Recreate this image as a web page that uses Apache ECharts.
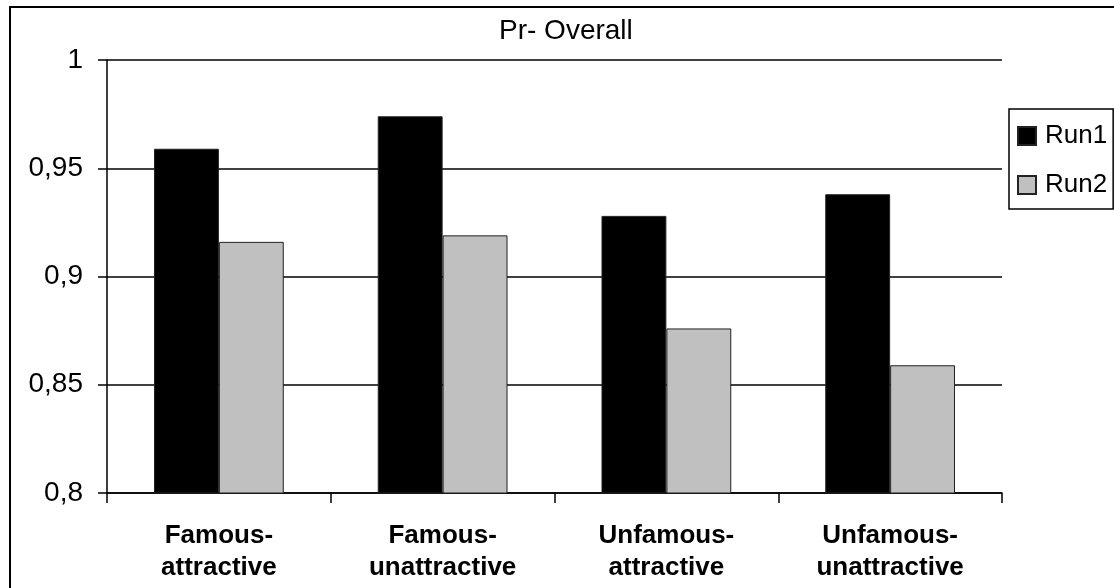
<!DOCTYPE html>
<html>
<head>
<meta charset="utf-8">
<script src="https://cdn.jsdelivr.net/npm/echarts@6/dist/echarts.min.js"></script>
<style>
  html, body { margin: 0; padding: 0; background: #fff; }
  #chart { width: 1114px; height: 588px; }
</style>
</head>
<body>
<div id="chart"></div>
<script>
  // values
  const categories = ['Famous-\nattractive', 'Famous-\nunattractive', 'Unfamous-\nattractive', 'Unfamous-\nunattractive']
  const seriesNames = ['Run1', 'Run2']
  const run1 = [0.959, 0.974, 0.928, 0.938]
  const run2 = [0.916, 0.919, 0.876, 0.859]
  const yMin = 0.8
  const yMax = 1
  const yStep = 0.05

  const font = 'Arial, "Liberation Sans", sans-serif'
  const myChart = echarts.init(document.getElementById('chart'))

  myChart.setOption({
    animation: false,
    textStyle: { fontFamily: font },
    title: {
      text: 'Pr- Overall',
      left: 499,
      top: 17,
      padding: 0,
      textStyle: { fontSize: 28, fontWeight: 'normal', color: '#000', fontFamily: font }
    },
    graphic: [{
      type: 'rect',
      shape: { x: 10, y: 7, width: 1200, height: 700 },
      style: { fill: 'none', stroke: '#000', lineWidth: 2 },
      silent: true
    }],
    legend: {
      orient: 'vertical',
      left: 1009,
      top: 109,
      padding: [12, 6, 9, 8],
      itemWidth: 18,
      itemHeight: 18,
      itemGap: 19,
      borderColor: '#000',
      borderWidth: 1.5,
      icon: 'rect',
      data: seriesNames,
      textStyle: { fontSize: 26, color: '#000', lineHeight: 30, fontFamily: font, padding: [0, 0, 0, 4] }
    },
    grid: {
      left: 107,
      right: 112,
      top: 60,
      bottom: 95
    },
    xAxis: {
      type: 'category',
      data: categories,
      axisLine: { lineStyle: { color: '#000', width: 1.5 } },
      axisTick: { show: true, length: 10, lineStyle: { color: '#000', width: 1.5 } },
      axisLabel: {
        color: '#000',
        fontSize: 26,
        fontWeight: 'bold',
        lineHeight: 32,
        margin: 27,
        interval: 0,
        fontFamily: font
      }
    },
    yAxis: {
      type: 'value',
      min: yMin,
      max: yMax,
      interval: yStep,
      axisLine: { show: true, lineStyle: { color: '#000', width: 1.5 } },
      axisTick: { show: true, length: 9, lineStyle: { color: '#000', width: 1.5 } },
      splitLine: { show: true, lineStyle: { color: '#000', width: 1.5 } },
      axisLabel: {
        color: '#000',
        fontSize: 28,
        margin: 24,
        fontFamily: font,
        formatter: function (v) {
          return String(+v.toFixed(2)).replace('.', ',')
        }
      }
    },
    series: [
      {
        name: seriesNames[0],
        type: 'bar',
        data: run1,
        barGap: '0%',
        barCategoryGap: '42%',
        itemStyle: { color: '#000000', borderColor: '#222', borderWidth: 1 }
      },
      {
        name: seriesNames[1],
        type: 'bar',
        data: run2,
        barGap: '0%',
        barCategoryGap: '42%',
        itemStyle: { color: '#c0c0c0', borderColor: '#222', borderWidth: 1 }
      }
    ]
  })
</script>
</body>
</html>
